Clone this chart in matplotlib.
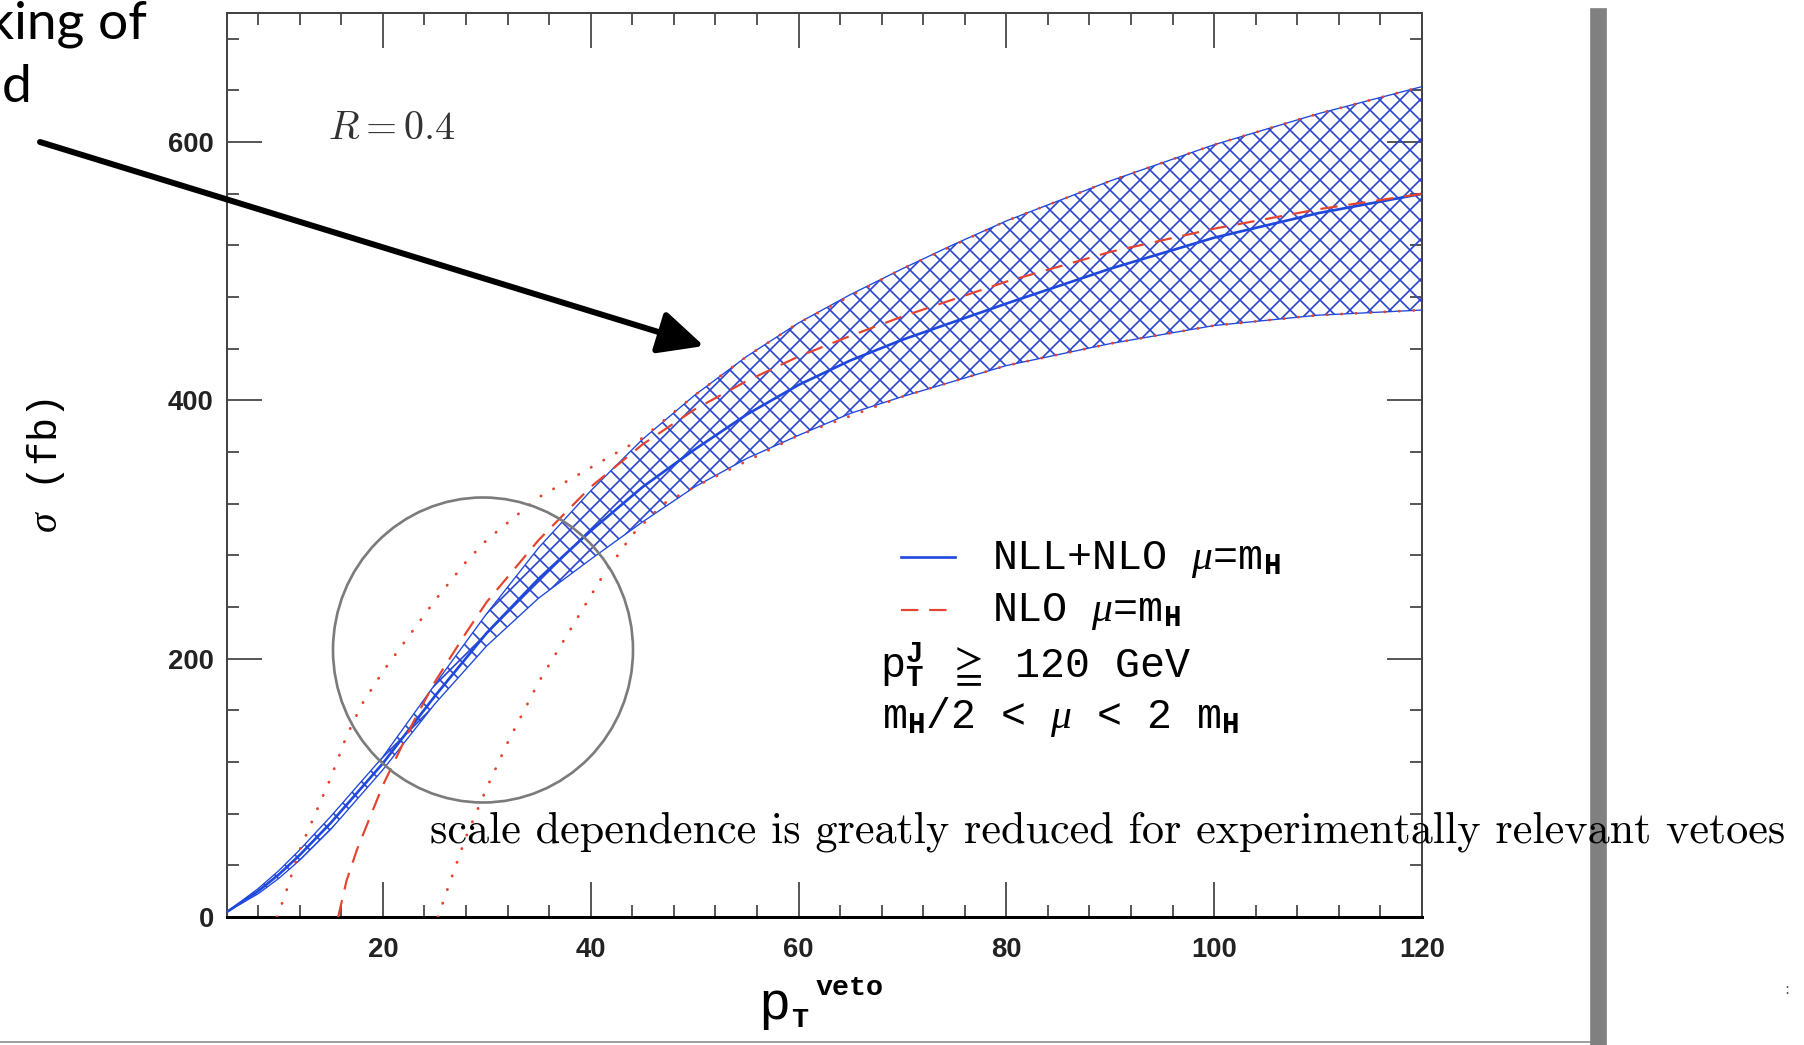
import matplotlib
matplotlib.use("Agg")
import matplotlib.pyplot as plt
from matplotlib.ticker import MultipleLocator
from matplotlib.patches import Ellipse, Rectangle, FancyArrowPatch
from matplotlib.lines import Line2D

# fonts: typewriter look for the plot labels, CM for the slide text
plt.rcParams["mathtext.fontset"] = "custom"
plt.rcParams["mathtext.rm"] = "Liberation Mono"
plt.rcParams["mathtext.it"] = "Liberation Serif:italic"
plt.rcParams["mathtext.bf"] = "Liberation Mono:bold"
plt.rcParams["mathtext.fallback"] = "stix"
plt.rcParams["hatch.linewidth"] = 1.0

W, H, DPI = 1804, 1045, 120

# NLL+NLO band (mH/2 < mu < 2 mH) and central value
x_band = [5, 8, 10, 12, 15, 20, 25, 30, 35, 40, 45, 50, 55, 60, 65, 70, 75, 80, 90, 100, 110, 120]
nll_central = [4, 20, 33, 48, 73, 119, 171, 220, 262, 299, 333, 362, 389, 412, 431, 447, 461, 475, 502, 526, 545, 560]
nll_upper = [4, 22, 36, 52, 78, 124, 180, 235, 286, 330, 370, 404, 434, 460, 482, 502, 521, 539, 570, 598, 622, 643]
nll_lower = [4, 18, 30, 44, 68, 114, 165, 210, 247, 277, 306, 333, 355, 373, 390, 403, 415, 427, 444, 458, 466, 470]

# NLO mu = mH
x_nlo = [15.7, 16.5, 17.5, 18.5, 20, 21.5, 23, 25, 28, 30, 35, 40, 45, 50, 55, 60, 65, 70, 80, 90, 100, 110, 120]
nlo_central = [0, 28, 52, 72, 102, 127, 152, 182, 220, 244, 292, 333, 366, 393, 415, 434, 450, 465, 492, 515, 533, 548, 560]

# NLO scale variations
x_nlo_hi = [9.8, 10.5, 12, 13.5, 15, 16.5, 18, 20, 22, 25, 28, 30, 35, 40, 45, 50, 55, 60, 70, 80, 90, 100, 110, 120]
nlo_hi = [0, 15, 52, 80, 108, 140, 165, 190, 212, 245, 275, 292, 325, 348, 371, 404, 434, 460, 502, 539, 570, 598, 622, 643]
x_nlo_lo = [25.3, 26.5, 28, 30, 32, 35, 38, 41, 44, 47, 50, 60, 70, 80, 90, 100, 110, 120]
nlo_lo = [0, 28, 62, 100, 135, 182, 222, 262, 296, 320, 333, 373, 403, 427, 444, 458, 466, 470]

blue = "#1f48dc"
red = "#e5432d"


def fx(px):
    return px / W


def fy(py):
    return 1 - py / H


fig = plt.figure(figsize=(W / DPI, H / DPI), dpi=DPI)
ax = fig.add_axes([fx(227), fy(917), fx(1422) - fx(227), fy(13) - fy(917)])

ax.fill_between(x_band, nll_lower, nll_upper, facecolor="none", edgecolor="#2a45cc",
                hatch="xx", linewidth=0, zorder=2)
ax.plot(x_band, nll_upper, color=blue, lw=0.8, zorder=3)
ax.plot(x_band, nll_lower, color=blue, lw=0.8, zorder=3)
ax.plot(x_band, nll_central, color=blue, lw=1.6, zorder=4)

ax.plot(x_nlo, nlo_central, color=red, lw=1.3, ls=(0, (8, 5)), zorder=5)
ax.plot(x_nlo_hi, nlo_hi, color=red, lw=1.7, ls=(0, (0.1, 5)), dash_capstyle="round", zorder=5)
ax.plot(x_nlo_lo, nlo_lo, color=red, lw=1.7, ls=(0, (0.1, 5)), dash_capstyle="round", zorder=5)

ax.set_xlim(5, 120)
ax.set_ylim(0, 700)
ax.xaxis.set_major_locator(MultipleLocator(20))
ax.xaxis.set_minor_locator(MultipleLocator(4))
ax.yaxis.set_major_locator(MultipleLocator(200))
ax.yaxis.set_minor_locator(MultipleLocator(40))
ax.tick_params(which="both", direction="in", top=True, right=True, color="#222222")
ax.tick_params(which="major", length=21, width=0.9)
ax.tick_params(which="minor", length=7, width=0.9)
ax.tick_params(axis="x", pad=12)
ax.tick_params(axis="y", pad=8)
for lab in ax.get_xticklabels() + ax.get_yticklabels():
    lab.set_fontfamily("Liberation Sans")
    lab.set_fontweight("bold")
    lab.set_fontsize(16.5)
    lab.set_color("#222222")
for s in ax.spines.values():
    s.set_color("#444444")
    s.set_linewidth(1.2)
ax.spines["bottom"].set_color("black")
ax.spines["bottom"].set_linewidth(1.8)

fig.text(fx(328), fy(128), r"$R = 0.4$", fontsize=24, math_fontfamily="cm",
         va="center", ha="left", color="#333333")

# x label: p with T subscript and veto superscript
fig.text(fx(758), fy(1019), "p", ha="left", va="baseline", fontfamily="Liberation Mono", fontsize=32)
fig.text(fx(791), fy(1027), "T", ha="left", va="baseline", fontfamily="Liberation Mono",
         fontweight="bold", fontsize=17)
fig.text(fx(816), fy(995), "veto", ha="left", va="baseline", fontfamily="Liberation Mono",
         fontweight="bold", fontsize=17)
fig.text(fx(46), fy(466), r"$\sigma$ (fb)", ha="center", va="center", rotation=90,
         fontfamily="Liberation Mono", fontsize=24)

# legend block
fig.add_artist(Line2D([fx(901), fx(955)], [fy(557)] * 2, color=blue, lw=1.6))
fig.add_artist(Line2D([fx(901), fx(955)], [fy(610)] * 2, color=red, lw=1.3, ls=(0, (8, 5))))
leg_kw = dict(fontfamily="Liberation Mono", fontsize=25, va="center", ha="left")
fig.text(fx(992), fy(560), r"NLL+NLO $\mu$=m$_{\mathbf{H}}$", **leg_kw)
fig.text(fx(992), fy(612), r"NLO $\mu$=m$_{\mathbf{H}}$", **leg_kw)
fig.text(fx(880), fy(665), r"p$_{\mathbf{T}}^{\mathbf{J}}$ $\geqq$ 120 GeV", **leg_kw)
fig.text(fx(882), fy(717), r"m$_{\mathbf{H}}$/2 < $\mu$ < 2 m$_{\mathbf{H}}$", **leg_kw)

# slide decorations around the plot
fig.add_artist(Ellipse((fx(483), fy(650)), 300 / W, 305 / H, fill=False, ec="#7b7b7b",
                       lw=1.6, zorder=10))
fig.add_artist(FancyArrowPatch((fx(40), fy(142)), (fx(704), fy(346)), transform=fig.transFigure,
                               arrowstyle="-|>,head_length=1.15,head_width=0.55", mutation_scale=20,
                               lw=3.6, color="black", shrinkA=0, shrinkB=0, zorder=10))
fig.add_artist(Rectangle((fx(1591), 0), 15 / W, fy(9), color="#808080", zorder=9))
fig.add_artist(Line2D([0, fx(1591)], [fy(1042)] * 2, color="#a0a0a0", lw=1.2))

fig.text(fx(147), fy(38), "king of", ha="right", va="baseline", fontfamily="Lato", fontsize=32)
fig.text(fx(32), fy(102), "d", ha="right", va="baseline", fontfamily="Lato", fontsize=32)
fig.text(fx(430), fy(843), "scale dependence is greatly reduced for experimentally relevant vetoes",
         ha="left", va="baseline", fontfamily="cmr10", fontsize=26.5, zorder=12)
fig.text(fx(1787), fy(990), ":", ha="center", va="center", fontsize=9, color="#555555")

fig.savefig("out.png", dpi=DPI, facecolor="white")
